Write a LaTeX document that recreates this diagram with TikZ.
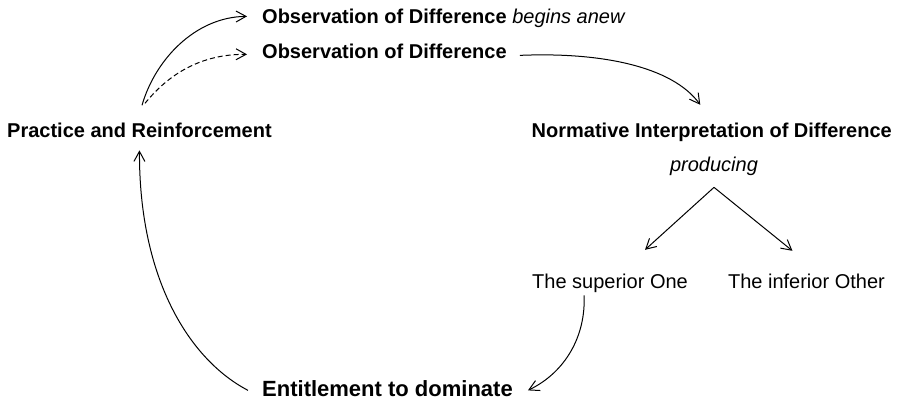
\documentclass[tikz,border=0pt]{standalone}
\usepackage{fontspec}
\setmainfont{Liberation Sans}
\usetikzlibrary{arrows.meta,calc}
\tikzset{
  lbl/.style={inner sep=0pt, font=\fontsize{20}{24}\selectfont},
  blbl/.style={lbl, font=\fontsize{20}{24}\selectfont\bfseries},
  biglbl/.style={inner sep=0pt, font=\fontsize{22}{26}\selectfont\bfseries},
  ilbl/.style={lbl, font=\fontsize{20}{24}\selectfont\itshape},
  conn/.style={line width=1pt, -{Straight Barb[length=10pt,width=11pt,line width=1pt]}},
}
\begin{document}
\begin{tikzpicture}[x=1pt,y=-1pt]
\useasboundingbox (0,0) rectangle (902,402);
\node[blbl, anchor=base west] (obsA) at (262,23) {Observation of Difference \textmd{\itshape begins anew}};
\node[blbl, anchor=base west] (obsB) at (262,58) {Observation of Difference};
\node[blbl, anchor=base west] (prac) at (7,137) {Practice and Reinforcement};
\node[blbl, anchor=base east] (norm) at (892,137) {Normative Interpretation of Difference};
\node[ilbl, anchor=base] (prod) at (714,171) {producing};
\node[lbl, anchor=base west] (sup) at (532,288) {The superior One};
\node[lbl, anchor=base east] (inf) at (885,288) {The inferior Other};
\node[biglbl, anchor=base west] (ent) at (262,396) {Entitlement to dominate};

% loop back to a new observation
\draw[conn] ($(prac.north west)+(135,-17)$) .. controls (155,60) and (195,17) .. ($(obsA.mid west)+(-15,-4)$);
\draw[conn, dashed, dash pattern=on 5pt off 3pt] ($(prac.north west)+(138,-19)$) .. controls (168,75) and (200,54) .. ($(obsB.mid west)+(-15,-1)$);
% observation -> normative interpretation
\draw[conn] ($(obsB.mid east)+(13,0)$) .. controls (600,52) and (672,66) .. ($(norm.north)+(-11.5,-17.5)$);
% producing -> two
\draw[conn] ($(prod.south)+(0,12)$) -- ($(sup.north)+(35,-23.5)$);
\draw[conn] ($(prod.south)+(0,12)$) -- ($(inf.north)+(-14,-22.5)$);
% superior -> entitlement
\draw[conn] ($(sup.south)+(-26,3)$) .. controls (586,335) and (566,372) .. ($(ent.mid east)+(15,-3)$);
% entitlement -> practice
\draw[conn] ($(ent.mid west)+(-14,-3)$) .. controls (190,360) and (139,280) .. ($(prac.south)+(0,13)$);
\end{tikzpicture}
\end{document}
